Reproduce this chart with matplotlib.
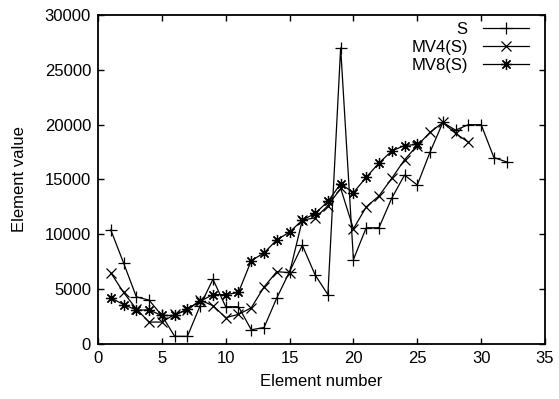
import numpy as np
import matplotlib
matplotlib.use('Agg')
import matplotlib.pyplot as plt

# values
xS = np.arange(1, 33)
S = [10400, 7400, 4300, 4000, 2600, 700, 700, 3500, 5900, 3400, 3400, 1300,
     1500, 4200, 6600, 9000, 6300, 4500, 27000, 7700, 10600, 10600, 13300, 15400,
     14500, 17500, 20200, 19500, 20000, 20000, 17000, 16600]

xMV4 = np.arange(1, 30)
MV4 = [6500, 4700, 3200, 2000, 2000, 2700, 3100, 4000, 3500, 2400, 2700, 3300,
       5200, 6600, 6500, 11300, 11500, 12600, 14200, 10500, 12500, 13500, 15100, 16800,
       18100, 19300, 20200, 19200, 18400]

xMV8 = np.arange(1, 26)
MV8 = [4200, 3600, 3100, 3100, 2600, 2600, 3200, 3900, 4500, 4500, 4700, 7600,
       8300, 9500, 10200, 11300, 11900, 13000, 14600, 13800, 15200, 16500, 17600, 18100,
       18200]

xTicks = np.arange(0, 36, 5)
yTicks = np.arange(0, 30001, 5000)

plt.rcParams['font.family'] = ['Liberation Sans', 'DejaVu Sans']
plt.rcParams['font.size'] = 12

fig = plt.figure(figsize=(5.59, 3.99), dpi=100)
ax = fig.add_axes([98/559, 1 - 344/399, 447/559, 329/399])

lw = 0.9
ax.plot(xS, S, color='black', lw=lw, marker='+', ms=9, mew=lw, label='S')
ax.plot(xMV4, MV4, color='black', lw=lw, marker='x', ms=7, mew=lw, label='MV4(S)')
ax.plot(xMV8, MV8, color='black', lw=lw, marker=(8, 2, 0), ms=8, mew=lw, label='MV8(S)')

ax.set_xlim(0, 35)
ax.set_ylim(0, 30000)
ax.set_xticks(xTicks)
ax.set_yticks(yTicks)
ax.tick_params(direction='in', length=4, width=1, top=True, right=True, pad=5)
for sp in ax.spines.values():
    sp.set_linewidth(1.3)

ax.set_xlabel('Element number', labelpad=6)
ax.set_ylabel('Element value', labelpad=13)

ax.legend(loc='upper right', frameon=False, markerfirst=False, handlelength=2.8,
          handletextpad=0.9, labelspacing=0.2, borderaxespad=0.0,
          bbox_to_anchor=(0.98, 1.0))

fig.savefig('out.png', dpi=100)
